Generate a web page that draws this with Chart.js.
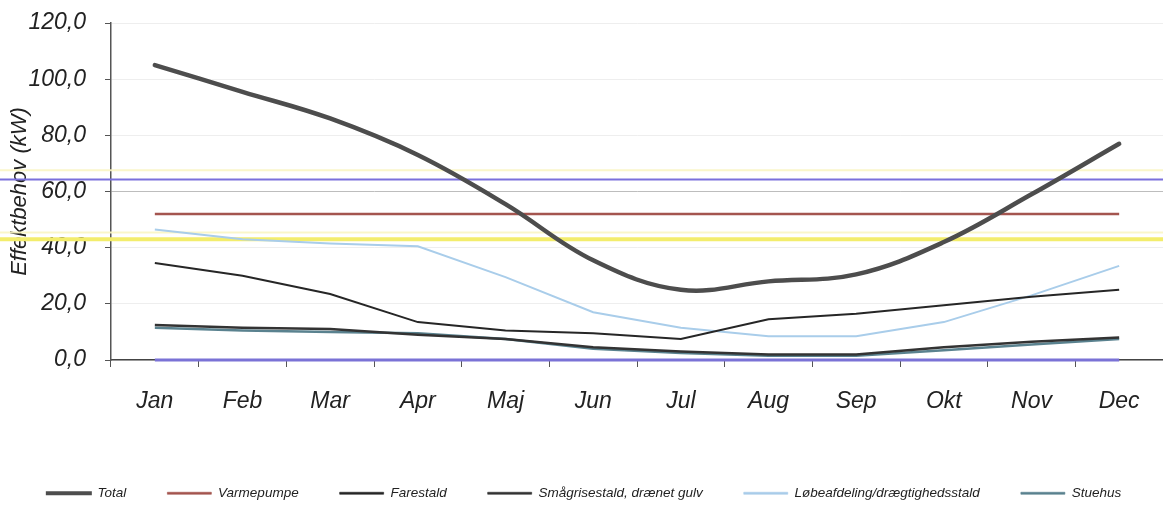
<!DOCTYPE html>
<html><head><meta charset="utf-8">
<script src="https://cdn.jsdelivr.net/npm/chart.js@4.4.0/dist/chart.umd.min.js"></script>
<style>html,body{margin:0;padding:0;background:#fff}#wrap{width:1163px;height:506px;position:relative}</style>
</head><body><div id="wrap"><canvas id="c" width="1163" height="506"></canvas></div>
<script>
const months = ['Jan','Feb','Mar','Apr','Maj','Jun','Jul','Aug','Sep','Okt','Nov','Dec'];
const total = [105, 95.5, 86, 73, 55.5, 35.5, 25, 28, 30.5, 42, 59, 77];
const varmepumpe = [52, 52, 52, 52, 52, 52, 52, 52, 52, 52, 52, 52];
const farestald = [34.5, 30, 23.5, 13.5, 10.5, 9.5, 7.5, 14.5, 16.5, 19.5, 22.5, 25];
const smaagrise = [12.5, 11.5, 11, 9, 7.5, 4.5, 3, 2, 2, 4.5, 6.5, 8];
const loebe = [46.5, 43, 41.5, 40.5, 29.5, 17, 11.5, 8.5, 8.5, 13.5, 23, 33.5];
const stuehus = [11.5, 10.5, 10, 9.5, 7.5, 4, 2.5, 1.5, 1.5, 3.5, 5.5, 7.5];
const nullSerie = [0, 0, 0, 0, 0, 0, 0, 0, 0, 0, 0, 0];
const yTickLabels = ['0,0', '20,0', '40,0', '60,0', '80,0', '100,0', '120,0'];
const seriesNames = ['Total', 'Varmepumpe', 'Farestald', 'Smågrisestald, drænet gulv', 'Løbeafdeling/drægtighedsstald', 'Stuehus'];
const refLevels = [67.6, 45.4, 43, 64.3];

const FONT = '"Liberation Sans", Arial, sans-serif';
const LEG_FONT = 13.5, LEG_PAD = 41;
const PAD_BOTTOM = -4, PAD_RIGHT = -5;

const refLinePlugin = {
  id: 'refLines',
  beforeDatasetsDraw(chart) {
    const {ctx} = chart;
    const y = chart.scales.y;
    const styles = [
      {c: 'rgba(249,245,195,0.9)', w: 2},
      {c: 'rgba(249,245,195,0.9)', w: 2},
      {c: '#f3ed6c', w: 4},
      {c: '#7a70dc', w: 2}
    ];
    refLevels.forEach((v, i) => {
      const py = y.getPixelForValue(v);
      ctx.save();
      ctx.strokeStyle = styles[i].c;
      ctx.lineWidth = styles[i].w;
      ctx.beginPath();
      ctx.moveTo(0, py);
      ctx.lineTo(chart.width, py);
      ctx.stroke();
      ctx.restore();
    });
  }
};

function ds(label, data, color, width, tension, extra) {
  return Object.assign({label, data, borderColor: color, backgroundColor: color, borderWidth: width,
    pointRadius: 0, pointHoverRadius: 0, tension, fill: false}, extra || {});
}

new Chart(document.getElementById('c'), {
  type: 'line',
  data: {
    labels: months,
    datasets: [
      ds(seriesNames[0], total, '#4d4d4d', 4.5, 0.38, {borderCapStyle: 'round'}),
      ds(seriesNames[1], varmepumpe, '#a4554f', 2.5, 0),
      ds(seriesNames[2], farestald, '#262626', 2, 0),
      ds(seriesNames[3], smaagrise, '#333333', 2.5, 0),
      ds(seriesNames[4], loebe, '#a9cdea', 2, 0),
      ds(seriesNames[5], stuehus, '#5a828f', 2.5, 0),
      ds('', nullSerie, '#7a72d6', 3, 0, {clip: false})
    ]
  },
  options: {
    responsive: false,
    animation: false,
    devicePixelRatio: 1,
    layout: {padding: {top: 23, right: PAD_RIGHT, bottom: PAD_BOTTOM, left: 0}},
    plugins: {
      tooltip: {enabled: false},
      legend: {
        position: 'bottom',
        labels: {
          boxWidth: 44,
          boxHeight: 2,
          padding: LEG_PAD,
          color: '#222',
          font: {family: FONT, size: LEG_FONT, style: 'italic'},
          generateLabels(chart) {
            const items = Chart.defaults.plugins.legend.labels.generateLabels(chart);
            return items.filter(it => it.datasetIndex < 6).map(it =>
              Object.assign({}, it, {lineWidth: it.datasetIndex === 0 ? 2 : 0.6}));
          }
        }
      }
    },
    scales: {
      x: {
        offset: true,
        grid: {offset: true, drawOnChartArea: false, drawTicks: true, tickLength: 7, tickColor: '#555'},
        border: {display: true, color: '#444', width: 1.5},
        ticks: {color: '#222', font: {family: FONT, size: 23, style: 'italic'}, padding: 21, maxRotation: 0, autoSkip: false},
        afterFit(scale) {
          scale.height = 506 - PAD_BOTTOM - (LEG_FONT + LEG_PAD + 10) - 360;
          scale.paddingLeft = 0;
          scale.paddingRight = PAD_RIGHT;
        }
      },
      y: {
        min: 0, max: 120,
        ticks: {stepSize: 20, color: '#222', font: {family: FONT, size: 23, style: 'italic'}, padding: 19,
          callback: (v, i) => yTickLabels[i]},
        grid: {
          color: (c) => (c.tick && c.tick.value === 60) ? '#bdbdbd' : '#eeeeee',
          tickColor: '#555', tickLength: 6, drawTicks: true
        },
        border: {display: true, color: '#555', width: 1.5},
        title: {display: true, text: 'Effektbehov (kW)', color: '#222', font: {family: FONT, size: 22, style: 'italic'}, padding: {top: 7, bottom: 0}},
        afterFit(scale) {
          scale.width = 111;
          scale.paddingTop = 0;
          scale.paddingBottom = 0;
          scale.paddingRight = PAD_RIGHT;
        }
      }
    }
  },
  plugins: [refLinePlugin]
});
</script>
</body></html>
